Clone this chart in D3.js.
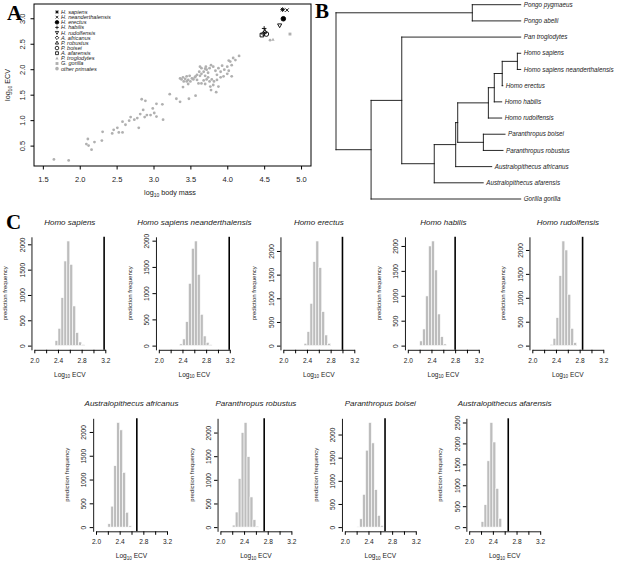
<!DOCTYPE html>
<html>
<head>
<meta charset="utf-8"/>
<script src="https://cdn.jsdelivr.net/npm/d3@7"></script>
<title>ECV figure</title>
<style>
body { margin: 0; background: #fff; }
svg { font-family: "Liberation Sans", Arial, sans-serif; }
.panel-letter { font-family: "Liberation Serif", "DejaVu Serif", serif; font-weight: bold; font-size: 21px; }
</style>
</head>
<body>
<script>
// ---- panel A data: log10 body mass vs log10 ECV ----
var legendNames = ["H. sapiens", "H. neanderthalensis", "H. erectus", "H. habilis", "H. rudolfensis",
                   "A. africanus", "P. robustus", "P. boisei", "A. afarensis", "P. troglodytes", "G. gorilla", "other primates"];
var hominMass = [4.75, 4.81, 4.76, 4.50, 4.71, 4.49, 4.51, 4.53, 4.47, 4.62, 4.85];
var hominEcv  = [3.17, 3.16, 2.99, 2.80, 2.86, 2.70, 2.74, 2.69, 2.67, 2.58, 2.69];
var otherMass = [1.65, 1.85, 2.09, 2.11, 2.12, 2.16, 2.20, 2.30, 2.31, 2.44, 2.46, 2.51, 2.53, 2.58, 2.58, 2.62, 2.67, 2.69,
                 2.74, 2.78, 2.80, 2.82, 2.86, 2.84, 2.89, 2.91, 2.88, 2.96, 2.99, 3.01, 3.04, 3.04, 3.12, 3.13, 3.22, 3.31,
                 3.36, 3.48, 3.57, 3.40, 3.47, 3.65, 3.70, 3.78, 3.85, 3.88,
                 4.16, 4.08, 4.11, 4.04, 4.02, 4.06, 4.00, 3.93, 3.96, 3.91, 4.00, 3.86, 3.88, 3.84, 3.81, 3.78, 3.76, 3.72,
                 3.74, 3.70, 3.68, 3.65, 3.63, 3.62, 3.59, 3.56, 3.52, 3.49, 3.45, 3.43, 3.40, 3.36, 3.47, 3.50, 3.54, 3.59,
                 3.70, 3.74, 3.79, 3.82, 3.86, 3.91, 3.76, 3.72, 3.61, 3.68, 3.81, 3.77, 3.95, 4.02, 4.06, 3.45, 3.41, 3.38,
                 3.57, 3.65, 3.71, 3.63, 4.58];
var otherEcv  = [0.23, 0.21, 0.53, 0.63, 0.50, 0.42, 0.57, 0.60, 0.77, 0.74, 0.81, 0.85, 0.76, 0.76, 0.97, 0.91, 0.99, 1.06,
                 1.01, 1.04, 0.85, 1.12, 1.20, 1.41, 1.38, 1.10, 1.06, 1.10, 1.23, 1.14, 1.32, 1.07, 1.31, 1.01, 1.51, 1.42,
                 1.36, 1.42, 1.48, 1.65, 1.71, 1.72, 1.71, 1.59, 1.55, 1.66,
                 2.26, 2.22, 2.18, 2.15, 2.17, 2.08, 2.05, 2.07, 1.99, 1.95, 1.91, 1.89, 2.02, 1.97, 2.05, 2.08, 2.02, 1.99,
                 1.93, 2.01, 1.95, 1.91, 1.87, 1.95, 1.89, 1.84, 1.82, 1.87, 1.86, 1.81, 1.84, 1.82, 1.79, 1.76, 1.80, 1.79,
                 1.87, 1.84, 1.80, 1.76, 1.79, 1.84, 1.76, 1.80, 1.72, 1.78, 1.69, 1.66, 1.86, 1.97, 1.86, 1.76, 1.76, 1.80,
                 1.86, 2.02, 2.05, 2.05, 2.57];
var massTicks = [1.5, 2.0, 2.5, 3.0, 3.5, 4.0, 4.5, 5.0];
var ecvTicks  = [0.5, 1.0, 1.5, 2.0, 2.5, 3.0];

// ---- panel B data: tree (node id, parent, depth from root) ----
var treeIds = ["root", "Pg", "Gn", "Pn", "Hn", "An", "HP", "Pa", "Ho", "Hh", "He", "Hs",
  "Pongo pygmaeus", "Pongo abelii", "Pan troglodytes", "Homo sapiens", "Homo sapiens neanderthalensis",
  "Homo erectus", "Homo habilis", "Homo rudolfensis", "Paranthropus boisei", "Paranthropus robustus",
  "Australopithecus africanus", "Australopithecus afarensis", "Gorilla gorilla"];
var treeParents = ["", "root", "root", "Gn", "Pn", "Hn", "An", "HP", "HP", "Ho", "Hh", "He",
  "Pg", "Pg", "Pn", "Hs", "Hs", "He", "Hh", "Ho", "Pa", "Pa", "An", "Hn", "Gn"];
var treeDepth = [0, 0.738, 0.190, 0.356, 0.532, 0.648, 0.659, 0.798, 0.825, 0.857, 0.900, 0.982,
  1, 1, 1, 1, 1, 0.903, 0.897, 0.897, 0.915, 0.904, 0.843, 0.797, 1];
var tipOrder = ["Pongo pygmaeus", "Pongo abelii", "Pan troglodytes", "Homo sapiens", "Homo sapiens neanderthalensis",
  "Homo erectus", "Homo habilis", "Homo rudolfensis", "Paranthropus boisei", "Paranthropus robustus",
  "Australopithecus africanus", "Australopithecus afarensis", "Gorilla gorilla"];

// ---- panel C data: predicted log10 ECV histograms (bin width 0.05) ----
var species = ["Homo sapiens", "Homo sapiens neanderthalensis", "Homo erectus", "Homo habilis", "Homo rudolfensis",
  "Australopithecus africanus", "Paranthropus robustus", "Paranthropus boisei", "Australopithecus afarensis"];
var observedEcv = [3.18, 3.19, 3.00, 2.80, 2.85, 2.69, 2.74, 2.68, 2.66];
var binStart = [2.35, 2.35, 2.35, 2.20, 2.30, 2.20, 2.20, 2.20, 2.20];
var binCounts = [
  [100, 342, 947, 1671, 2066, 1605, 783, 257, 72, 20],
  [32, 127, 457, 1187, 1854, 1994, 1359, 597, 184, 63, 19],
  [49, 296, 894, 1775, 2211, 1648, 718, 225, 49],
  [94, 334, 997, 2000, 2100, 1518, 635, 180, 33],
  [28, 153, 585, 1463, 2188, 2000, 1073, 362, 63],
  [71, 440, 1291, 2199, 2043, 1149, 312, 28],
  [43, 319, 1028, 2000, 2213, 1489, 638, 156, 21],
  [14, 180, 708, 1661, 2260, 1819, 809, 253, 36],
  [132, 536, 1584, 2500, 2034, 924, 210]
];
var binWidth = 0.05;
var histTicks = [2.0, 2.2, 2.4, 2.6, 2.8, 3.0, 3.2];
var histTickLabels = ["2.0", "", "2.4", "", "2.8", "", "3.2"];

var svg = d3.select("body").append("svg")
  .attr("width", 617).attr("height", 562);

// small R-like symbol paths
function shapePath(type, r) {
  var p = d3.path();
  if (type == "plus" || type == "asterisk") { p.moveTo(-r, 0); p.lineTo(r, 0); p.moveTo(0, -r); p.lineTo(0, r); }
  if (type == "x" || type == "asterisk") { var q = r * 0.75; p.moveTo(-q, -q); p.lineTo(q, q); p.moveTo(-q, q); p.lineTo(q, -q); }
  if (type == "circle" || type == "dot") { p.moveTo(r, 0); p.arc(0, 0, r, 0, 2 * Math.PI); }
  if (type == "square") { p.rect(-r * 0.8, -r * 0.8, r * 1.6, r * 1.6); }
  if (type == "triup") { p.moveTo(0, -r); p.lineTo(r * 0.9, r * 0.65); p.lineTo(-r * 0.9, r * 0.65); p.closePath(); }
  if (type == "tridown") { p.moveTo(0, r); p.lineTo(r * 0.9, -r * 0.65); p.lineTo(-r * 0.9, -r * 0.65); p.closePath(); }
  if (type == "diamond") { p.moveTo(0, -r); p.lineTo(r, 0); p.lineTo(0, r); p.lineTo(-r, 0); p.closePath(); }
  return p.toString();
}
var legendShape = ["asterisk", "x", "dot", "plus", "tridown", "diamond", "triup", "circle", "square", "triup", "square", "dot"];
var legendFill  = ["#000", "none", "#000", "none", "none", "none", "none", "none", "none", "#b0b0b0", "#b0b0b0", "#b0b0b0"];
var legendStroke = ["#000", "#000", "#000", "#000", "#000", "#000", "#000", "#000", "#000", "none", "none", "none"];

// ================= Panel A =================
var xA = d3.scaleLinear().domain([1.38, 5.135]).range([34, 311]);
var yA = d3.scaleLinear().domain([0.10, 3.28]).range([166, 4]);
var gA = svg.append("g");

gA.selectAll("circle.other").data(d3.range(otherMass.length)).enter().append("circle")
  .attr("class", "other")
  .attr("cx", function(i) { return xA(otherMass[i]); })
  .attr("cy", function(i) { return yA(otherEcv[i]); })
  .attr("r", 1.4).attr("fill", "#b0b0b0");

gA.selectAll("path.homin").data(d3.range(hominMass.length)).enter().append("path")
  .attr("class", "homin")
  .attr("transform", function(i) { return "translate(" + xA(hominMass[i]) + "," + yA(hominEcv[i]) + ")"; })
  .attr("d", function(i) { return shapePath(legendShape[i], i < 9 ? 2.3 : 1.8); })
  .attr("fill", function(i) { return legendFill[i]; })
  .attr("stroke", function(i) { return legendStroke[i]; })
  .attr("stroke-width", 0.9);

gA.append("rect").attr("x", 34).attr("y", 4).attr("width", 277).attr("height", 162)
  .attr("fill", "none").attr("stroke", "#000").attr("stroke-width", 1);

var axA = gA.append("g").attr("transform", "translate(0,166)")
  .call(d3.axisBottom(xA).tickValues(massTicks).tickFormat(d3.format(".1f")).tickSize(3.5).tickPadding(7));
var ayA = gA.append("g").attr("transform", "translate(34,0)")
  .call(d3.axisLeft(yA).tickValues(ecvTicks).tickFormat(d3.format(".1f")).tickSize(3.5));
[axA, ayA].forEach(function(a) {
  a.select(".domain").remove();
  a.selectAll("line").attr("stroke", "#000");
  a.selectAll("text").attr("font-size", 7.5).attr("fill", "#222").attr("font-family", "Liberation Sans, Arial, sans-serif");
});
ayA.selectAll(".tick text").attr("x", null).attr("text-anchor", "middle")
  .attr("transform", "translate(-12,0) rotate(-90)").attr("dy", "0.35em");

var xtA = gA.append("text").attr("x", 170).attr("y", 195).attr("text-anchor", "middle")
  .attr("font-size", 7.2).attr("fill", "#222");
xtA.append("tspan").text("log");
xtA.append("tspan").attr("font-size", 5).attr("dy", 1.8).text("10");
xtA.append("tspan").attr("dy", -1.8).text(" body mass");
var ytA = gA.append("text").attr("transform", "translate(10,85) rotate(-90)").attr("text-anchor", "middle")
  .attr("font-size", 7.2).attr("fill", "#222");
ytA.append("tspan").text("log");
ytA.append("tspan").attr("font-size", 5).attr("dy", 1.8).text("10");
ytA.append("tspan").attr("dy", -1.8).text(" ECV");

// legend
var leg = gA.selectAll("g.leg").data(legendNames).enter().append("g")
  .attr("class", "leg")
  .attr("transform", function(d, i) { return "translate(57," + (12 + i * 5.15) + ")"; });
leg.append("path")
  .attr("d", function(d, i) { return shapePath(legendShape[i], 1.8); })
  .attr("fill", function(d, i) { return legendFill[i]; })
  .attr("stroke", function(d, i) { return legendStroke[i]; })
  .attr("stroke-width", 0.8);
leg.append("text").attr("x", 4).attr("dy", "0.35em").attr("font-size", 5.6).attr("font-style", "italic")
  .attr("fill", "#222").text(function(d) { return d; });

svg.append("text").attr("class", "panel-letter").attr("x", 7).attr("y", 20).text("A");

// ================= Panel B =================
var xB = d3.scaleLinear().domain([0, 1]).range([336, 520.7]);
var yB = d3.scaleLinear().domain([0, tipOrder.length - 1]).range([4.7, 199]);
var root = d3.stratify()
  .id(function(i) { return treeIds[i]; })
  .parentId(function(i) { return treeParents[i] || null; })(d3.range(treeIds.length));
root.eachAfter(function(n) {
  n.px = xB(treeDepth[n.data]);
  if (!n.children) n.py = yB(tipOrder.indexOf(n.id));
  else n.py = (d3.min(n.children, function(c) { return c.py; }) + d3.max(n.children, function(c) { return c.py; })) / 2;
});
var gB = svg.append("g");
root.each(function(n) {
  if (n.children) {
    gB.append("line").attr("x1", n.px).attr("x2", n.px)
      .attr("y1", d3.min(n.children, function(c) { return c.py; }))
      .attr("y2", d3.max(n.children, function(c) { return c.py; }));
  }
  if (n.parent) {
    gB.append("line").attr("x1", n.parent.px).attr("x2", n.px).attr("y1", n.py).attr("y2", n.py);
  }
});
gB.selectAll("line").attr("stroke", "#111").attr("stroke-width", 0.9).attr("stroke-linecap", "square");
gB.selectAll("text.tip").data(root.leaves()).enter().append("text")
  .attr("class", "tip")
  .attr("x", function(n) { return n.px + 3; })
  .attr("y", function(n) { return n.py; })
  .attr("dy", "0.35em").attr("font-size", 6.3).attr("font-style", "italic").attr("fill", "#222")
  .text(function(n) { return n.id; });

svg.append("text").attr("class", "panel-letter").attr("x", 315).attr("y", 18).text("B");

// ================= Panel C =================
svg.append("text").attr("class", "panel-letter").attr("x", 6).attr("y", 229).text("C");

species.forEach(function(name, k) {
  var row = k < 5 ? 0 : 1;
  var col = row == 0 ? k : k - 5;
  var x0 = row == 0 ? 34.3 + col * 124.5 : 96 + col * 124.4;
  var top = row == 0 ? 236.8 : 418.3;
  var bottom = top + 113;
  var counts = binCounts[k];
  var maxC = d3.max(counts);

  var x = d3.scaleLinear().domain([2.0, 3.2]).range([x0, x0 + 71]);
  var y = d3.scaleLinear().domain([-0.04 * maxC, 1.04 * maxC]).range([bottom, top]);
  var left = x(1.952), right = x(3.248);
  var g = svg.append("g");

  g.selectAll("rect").data(counts).enter().append("rect")
    .attr("x", function(c, j) { return x(binStart[k] + j * binWidth); })
    .attr("width", function(c, j) { return x(binStart[k] + (j + 1) * binWidth) - x(binStart[k] + j * binWidth); })
    .attr("y", function(c) { return y(c); })
    .attr("height", function(c) { return y(0) - y(c); })
    .attr("fill", "#bdbdbd").attr("stroke", "#fff").attr("stroke-width", 0.6);

  g.append("line").attr("x1", x(observedEcv[k])).attr("x2", x(observedEcv[k]))
    .attr("y1", top).attr("y2", bottom).attr("stroke", "#000").attr("stroke-width", 1.6);

  var ax = g.append("g").attr("transform", "translate(0," + bottom + ")")
    .call(d3.axisBottom(x).tickValues(histTicks).tickFormat(function(d, i) { return histTickLabels[i]; })
      .tickSize(3.5).tickSizeOuter(0).tickPadding(5));
  var yTicks = d3.range(0, 1.04 * maxC, 500);
  var ay = g.append("g").attr("transform", "translate(" + left + ",0)")
    .call(d3.axisLeft(y).tickValues(yTicks).tickFormat(d3.format("d")).tickSize(3.5).tickSizeOuter(0));
  [ax, ay].forEach(function(a) {
    a.select(".domain").attr("stroke", "#000").attr("stroke-width", 0.9);
    a.selectAll("line").attr("stroke", "#000");
    a.selectAll("text").attr("font-size", 6.6).attr("fill", "#222").attr("font-family", "Liberation Sans, Arial, sans-serif");
  });
  ay.selectAll(".tick text").attr("x", null).attr("text-anchor", "middle")
    .attr("transform", "translate(-9,0) rotate(-90)").attr("dy", "0.35em");

  g.append("text").attr("x", (left + right) / 2).attr("y", top - 12).attr("text-anchor", "middle")
    .attr("font-size", 8).attr("font-style", "italic").attr("fill", "#222").text(name);
  g.append("text").attr("transform", "translate(" + (left - 24) + "," + ((top + bottom) / 2) + ") rotate(-90)")
    .attr("text-anchor", "middle").attr("font-size", 6).attr("fill", "#222").text("prediction frequency");
  var xt = g.append("text").attr("x", (left + right) / 2).attr("y", bottom + 27).attr("text-anchor", "middle")
    .attr("font-size", 6.6).attr("fill", "#222");
  xt.append("tspan").text("Log");
  xt.append("tspan").attr("font-size", 4.6).attr("dy", 1.6).text("10");
  xt.append("tspan").attr("dy", -1.6).text(" ECV");
});
</script>
</body>
</html>
